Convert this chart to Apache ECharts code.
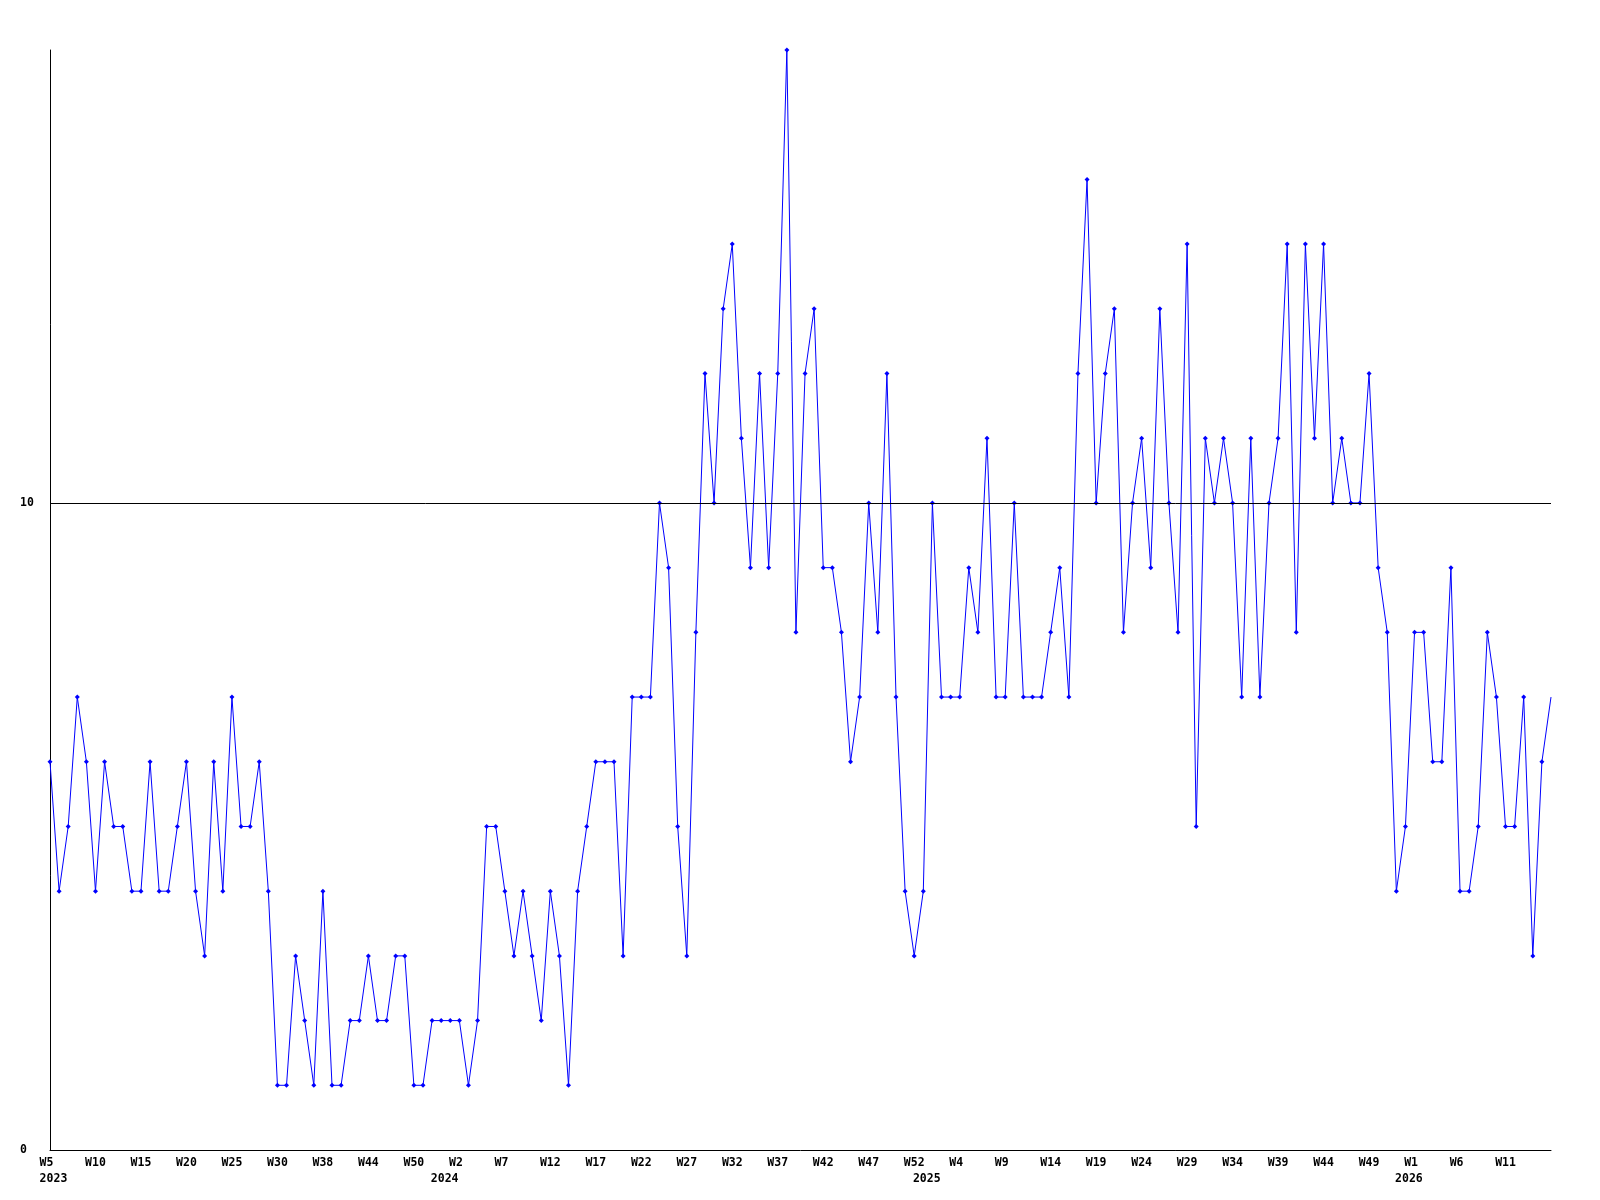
<!DOCTYPE html>
<html>
<head>
<meta charset="utf-8">
<script src="https://cdn.jsdelivr.net/npm/echarts@6/dist/echarts.min.js"></script>
<style>
  html, body { margin: 0; padding: 0; background: #fff; }
  #chart { width: 1600px; height: 1200px; }
</style>
</head>
<body>
<div id="chart"></div>
<script>
// weekly buckets, "year week"
const weeks = [
  '2023 W5', '2023 W6', '2023 W7', '2023 W8', '2023 W9', '2023 W10', '2023 W11', '2023 W12', '2023 W13', '2023 W14',
  '2023 W15', '2023 W16', '2023 W17', '2023 W18', '2023 W19', '2023 W20', '2023 W21', '2023 W22', '2023 W23', '2023 W24',
  '2023 W25', '2023 W26', '2023 W27', '2023 W28', '2023 W29', '2023 W30', '2023 W31', '2023 W33', '2023 W35', '2023 W37',
  '2023 W38', '2023 W39', '2023 W40', '2023 W41', '2023 W43', '2023 W44', '2023 W45', '2023 W46', '2023 W48', '2023 W49',
  '2023 W50', '2023 W51', '2023 W52', '2024 W0', '2024 W1', '2024 W2', '2024 W3', '2024 W4', '2024 W5', '2024 W6',
  '2024 W7', '2024 W8', '2024 W9', '2024 W10', '2024 W11', '2024 W12', '2024 W13', '2024 W14', '2024 W15', '2024 W16',
  '2024 W17', '2024 W18', '2024 W19', '2024 W20', '2024 W21', '2024 W22', '2024 W23', '2024 W24', '2024 W25', '2024 W26',
  '2024 W27', '2024 W28', '2024 W29', '2024 W30', '2024 W31', '2024 W32', '2024 W33', '2024 W34', '2024 W35', '2024 W36',
  '2024 W37', '2024 W38', '2024 W39', '2024 W40', '2024 W41', '2024 W42', '2024 W43', '2024 W44', '2024 W45', '2024 W46',
  '2024 W47', '2024 W48', '2024 W49', '2024 W50', '2024 W51', '2024 W52', '2025 W0', '2025 W1', '2025 W2', '2025 W3',
  '2025 W4', '2025 W5', '2025 W6', '2025 W7', '2025 W8', '2025 W9', '2025 W10', '2025 W11', '2025 W12', '2025 W13',
  '2025 W14', '2025 W15', '2025 W16', '2025 W17', '2025 W18', '2025 W19', '2025 W20', '2025 W21', '2025 W22', '2025 W23',
  '2025 W24', '2025 W25', '2025 W26', '2025 W27', '2025 W28', '2025 W29', '2025 W30', '2025 W31', '2025 W32', '2025 W33',
  '2025 W34', '2025 W35', '2025 W36', '2025 W37', '2025 W38', '2025 W39', '2025 W40', '2025 W41', '2025 W42', '2025 W43',
  '2025 W44', '2025 W45', '2025 W46', '2025 W47', '2025 W48', '2025 W49', '2025 W50', '2025 W51', '2025 W52', '2026 W0',
  '2026 W1', '2026 W2', '2026 W3', '2026 W4', '2026 W5', '2026 W6', '2026 W7', '2026 W8', '2026 W9', '2026 W10',
  '2026 W11', '2026 W12', '2026 W13', '2026 W14', '2026 W15', '2026 W16'
];

const counts = [
  6, 4, 5, 7, 6, 4, 6, 5, 5, 4,
  4, 6, 4, 4, 5, 6, 4, 3, 6, 4,
  7, 5, 5, 6, 4, 1, 1, 3, 2, 1,
  4, 1, 1, 2, 2, 3, 2, 2, 3, 3,
  1, 1, 2, 2, 2, 2, 1, 2, 5, 5,
  4, 3, 4, 3, 2, 4, 3, 1, 4, 5,
  6, 6, 6, 3, 7, 7, 7, 10, 9, 5,
  3, 8, 12, 10, 13, 14, 11, 9, 12, 9,
  12, 17, 8, 12, 13, 9, 9, 8, 6, 7,
  10, 8, 12, 7, 4, 3, 4, 10, 7, 7,
  7, 9, 8, 11, 7, 7, 10, 7, 7, 7,
  8, 9, 7, 12, 15, 10, 12, 13, 8, 10,
  11, 9, 13, 10, 8, 14, 5, 11, 10, 11,
  10, 7, 11, 7, 10, 11, 14, 8, 14, 11,
  14, 10, 11, 10, 10, 12, 9, 8, 4, 5,
  8, 8, 6, 6, 9, 4, 4, 5, 8, 7,
  5, 5, 7, 3, 6, 7
];

const yTicks = [0, 10];
const refLine = 10;

const font = { fontFamily: 'DejaVu Sans Mono', fontWeight: 'bold', fontSize: 11.5, color: '#000' };
const yearOf = s => s.split(' ')[0];
const last = weeks.length - 1;

const chart = echarts.init(document.getElementById('chart'), null, { renderer: 'canvas' });

chart.setOption({
  animation: false,
  backgroundColor: '#fff',
  grid: { left: 50, right: 49, top: 50, bottom: 50 },
  xAxis: [
    {
      type: 'category', data: weeks, boundaryGap: false,
      axisLine: { lineStyle: { color: '#000', width: 1 } },
      axisTick: { show: false },
      axisLabel: {
        ...font, margin: 7,
        interval: (i) => i % 5 === 0 && i < last,
        formatter: v => v.split(' ')[1].padEnd(3),
      },
    },
    {
      type: 'category', data: weeks, boundaryGap: false, position: 'bottom', offset: 16,
      axisLine: { show: false }, axisTick: { show: false },
      axisLabel: {
        ...font, margin: 7,
        interval: (i) => i === 0 || yearOf(weeks[i]) !== yearOf(weeks[i - 1]),
        formatter: v => ' ' + yearOf(v),
      },
    },
  ],
  yAxis: {
    type: 'value', min: 0, max: 17, interval: 10,
    axisLine: { show: true, lineStyle: { color: '#000', width: 1 } },
    axisTick: { show: false },
    splitLine: { show: false },
    axisLabel: {
      ...font, align: 'left', margin: 30, showMaxLabel: false,
      formatter: v => (yTicks.includes(v) ? String(v) : ''),
    },
  },
  series: [{
    type: 'line',
    data: counts.map((v, i) => (i === last ? { value: v, symbol: 'none' } : v)),
    symbol: 'diamond', symbolSize: 5, showAllSymbol: true,
    lineStyle: { color: '#0000ff', width: 1 },
    itemStyle: { color: '#0000ff' },
    markLine: {
      silent: true, symbol: 'none', label: { show: false },
      lineStyle: { color: '#000', width: 1, type: 'solid' },
      data: [{ yAxis: refLine }],
    },
  }],
});
</script>
</body>
</html>
